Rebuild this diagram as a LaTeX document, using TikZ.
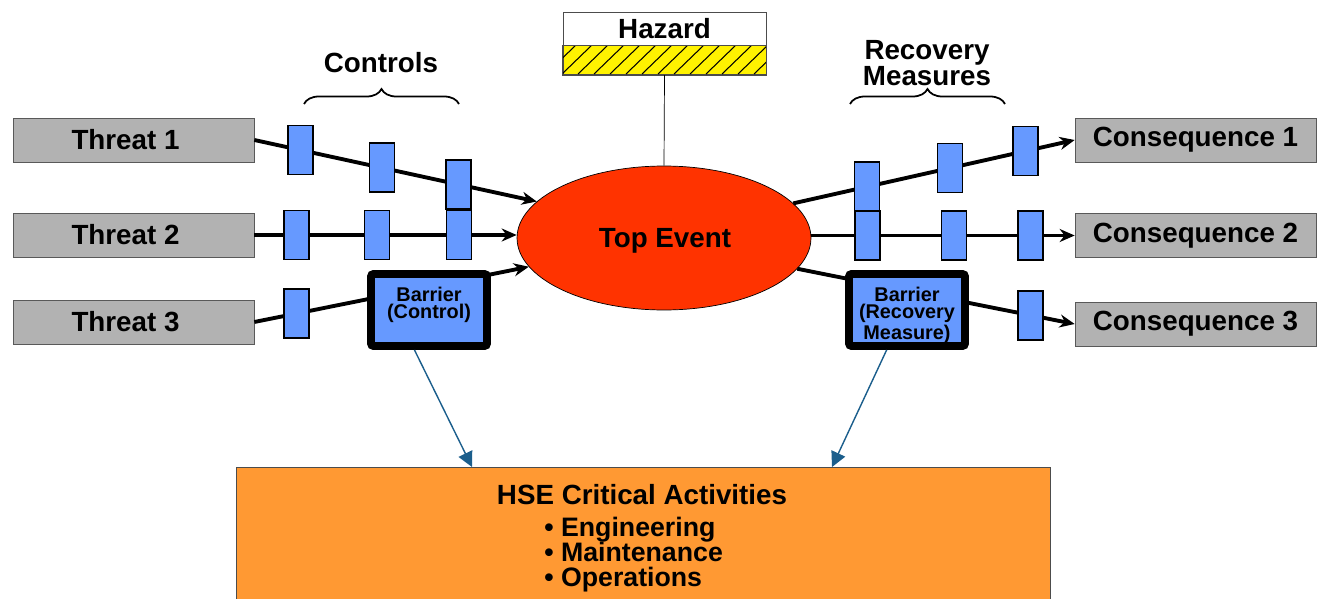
\documentclass[tikz,border=0pt]{standalone}
\usepackage{fontspec}
\setmainfont{Liberation Sans}
\usetikzlibrary{arrows.meta,shapes.geometric,decorations.pathreplacing,calc}
\definecolor{threatgray}{HTML}{B2B2B2}
\definecolor{barblue}{HTML}{6699FF}
\definecolor{eventred}{HTML}{FF3300}
\definecolor{hseorange}{HTML}{FF9933}
\definecolor{linkblue}{HTML}{1B5E8C}

\begin{document}
\begin{tikzpicture}[x=0.02cm,y=-0.02cm,>={Stealth[length=3mm,width=2.6mm]},
  font=\fontsize{15.8}{13}\selectfont\bfseries,line cap=butt,
  endbox/.style={draw=gray!70!black,fill=threatgray,minimum width=4.82cm,minimum height=0.88cm,inner sep=0pt},
  bar/.style={draw,line width=1pt,fill=barblue,minimum width=0.5cm,minimum height=0.98cm,inner sep=0pt},
  bigbar/.style={draw,line width=4.5pt,rounded corners=1.5pt,fill=barblue,minimum width=2.32cm,minimum height=1.44cm,inner sep=0pt},
  bartext/.style={anchor=north,inner sep=0pt,align=center,font=\fontsize{11.3}{9.8}\selectfont\bfseries},
  item/.style={anchor=base west,inner sep=0pt,font=\fontsize{15.2}{13}\selectfont\bfseries},
  flow/.style={line width=2.2pt,->},
  link/.style={linkblue,line width=0.8pt,-{Triangle[length=3mm,width=3mm]}}]
\useasboundingbox (0,0) rectangle (1321,598);
% threats and consequences
\node[endbox] (t1) at (133.5,140) {Threat 1\kern0.32cm};
\node[endbox] (t2) at (133.5,235) {Threat 2\kern0.32cm};
\node[endbox] (t3) at (133.5,322) {Threat 3\kern0.32cm};
\node[endbox] (c1) at (1195.5,140) {Consequence 1};
\node[endbox] (c2) at (1195.5,235.5) {Consequence 2};
\node[endbox] (c3) at (1195.5,324) {Consequence 3};
\node[draw,ellipse,fill=eventred,minimum width=5.88cm,minimum height=2.88cm,inner sep=0pt] (top) at (664,238) {};
\node (toptxt) at (665,241) {Top Event};
% hazard
\node[draw=gray!60!black,fill=white,minimum width=4.06cm,minimum height=0.66cm,inner sep=0pt] (haz) at (664.5,28.5) {Hazard};
\node[draw=gray!60!black,fill=yellow,minimum width=4.06cm,minimum height=0.58cm,inner sep=0pt,anchor=north] (hatch) at (haz.south) {};
\begin{scope}
\clip (hatch.south west) rectangle (hatch.north east);
\foreach \x in {530,546,...,790}
  \draw[line width=0.6pt] (\x,74) -- ++(30,-29);
\end{scope}
\draw[gray!60!black] (hatch.south west) rectangle (hatch.north east);
\draw (hatch.south) -- (top.north);
% controls
\draw[flow] (t1.east) -- (top.164) node[bar,pos=.163] (b11) {} node[bar,pos=.452] (b12) {} node[bar,pos=.724] (b13) {};
\draw[flow] (t2.east) -- (t2.east -| top.west) node[bar,pos=.16] (b21) {} node[bar,pos=.468] (b22) {} node[bar,pos=.78] (b23) {};
\draw[flow] (t3.east) -- (top.192) node[bar,pos=.153] (b31) {};
\node[bigbar] (bc) at (429,310) {};
\node[bartext] (bctxt) at (429,287) {Barrier\\(Control)};
% recovery measures
\draw[flow] (top.15) -- (c1.west) node[bar,pos=.262] (r11) {} node[bar,pos=.557] (r12) {} node[bar,pos=.826] (r13) {};
\draw[flow] (c2.west -| top.east) -- (c2.west) node[bar,pos=.212] (r21) {} node[bar,pos=.542] (r22) {} node[bar,pos=.833] (r23) {};
\draw[flow] (top.347) -- (c3.west) node[bar,pos=.842] (r31) {};
\node[bigbar] (bm) at (907,310) {};
\node[bartext] (bmtxt) at (907,287) {Barrier\\(Recovery\\Measure)};
% braces
\node (ctrl) at (381,63) {Controls};
\node[align=center] (recv) at (927,63) {Recovery\\Measures};
\draw[decorate,decoration={brace,amplitude=0.3cm},line width=1pt] (304,104) -- (459,104);
\draw[decorate,decoration={brace,amplitude=0.3cm},line width=1pt] (850,104) -- (1005,104);
% critical activities
\node[draw=gray!60!black,fill=hseorange,minimum width=16.28cm,minimum height=3cm,anchor=north west,inner sep=0pt] (hse) at (236,467) {};
\node (hsetitle) at (642,495) {HSE Critical Activities};
\node[item] (eng) at (544,536) {• Engineering};
\node[item] (mnt) at (544,561) {• Maintenance};
\node[item] (ops) at (544,586) {• Operations};
\draw[link] (bc.250) -- ($(hse.north west)+(236,0)$);
\draw[link] (bm.243) -- ($(hse.north west)+(596,0)$);
\end{tikzpicture}
\end{document}
